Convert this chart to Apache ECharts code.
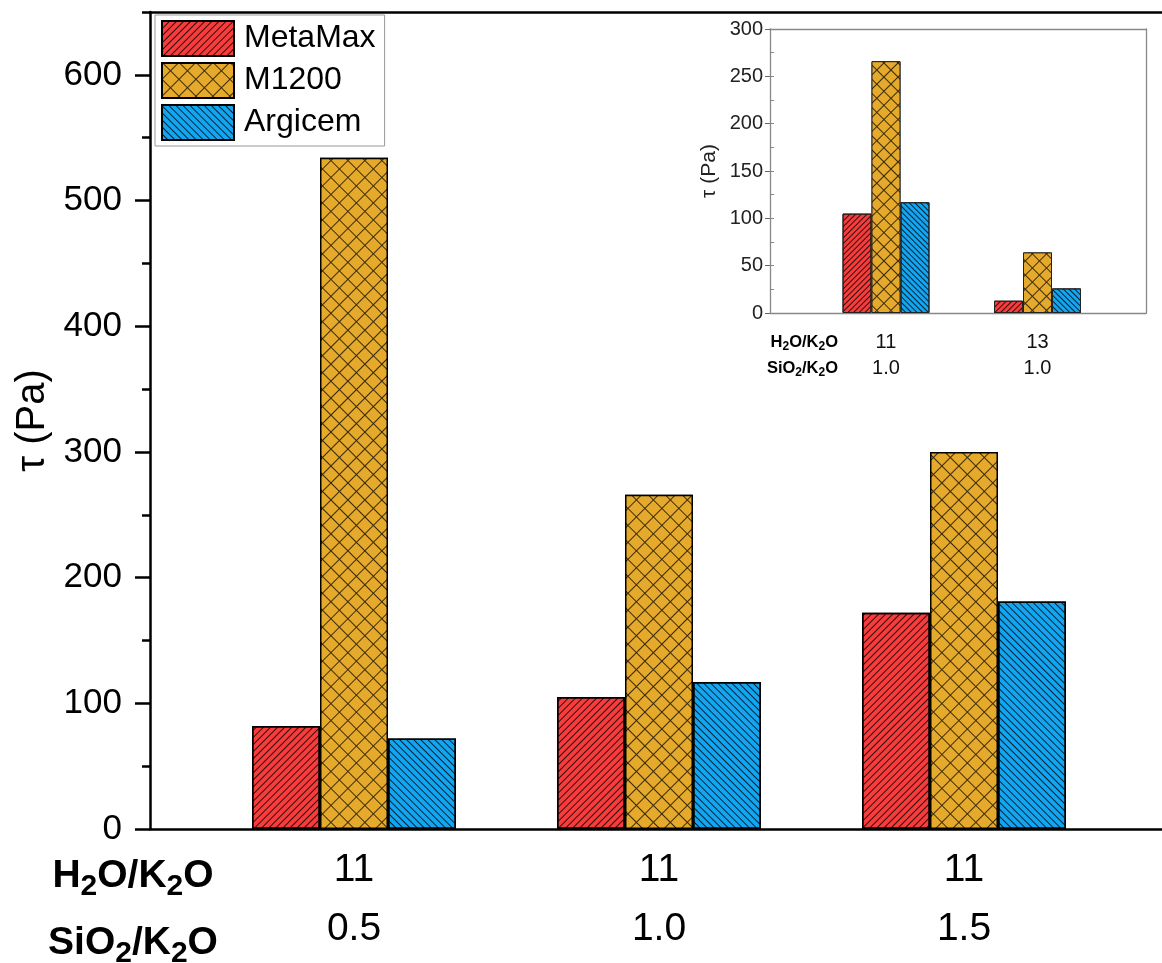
<!DOCTYPE html>
<html><head><meta charset="utf-8">
<script src="https://cdn.jsdelivr.net/npm/echarts@6/dist/echarts.min.js"></script>
<style>html,body{margin:0;padding:0;background:#fff}#c{width:1162px;height:963px}</style>
</head><body><div id="c"></div>
<script>
// ---- data ----
const seriesNames = ['MetaMax', 'M1200', 'Argicem'];
const mainH2O = ['11', '11', '11'];
const mainSiO2 = ['0.5', '1.0', '1.5'];
const mainMetaMax = [82, 105, 172];
const mainM1200 = [534, 266, 300];
const mainArgicem = [72, 117, 181];
const insetH2O = ['11', '13'];
const insetSiO2 = ['1.0', '1.0'];
const insetMetaMax = [105, 13];
const insetM1200 = [266, 64];
const insetArgicem = [117, 26];
const rowLabelH2O = '{b|H}{s|2}{b|O/K}{s|2}{b|O}';
const rowLabelSiO2 = '{b|SiO}{s|2}{b|/K}{s|2}{b|O}';
const yTitle = 'τ (Pa)';

// ---- styling ----
const FF = 'Arial, "Liberation Sans", sans-serif';
const colors = ['#F83C3C', '#E5A92C', '#12A6F2'];
function decals(scale, gap) {
  return [
    {symbol: 'rect', symbolSize: 1, color: 'rgba(0,0,0,0.8)', dashArrayX: [1, 0], dashArrayY: [1, gap], rotation: -Math.PI / 4},
    {symbol: 'rect', symbolSize: 1, color: colors[1], dashArrayX: [scale, 1], dashArrayY: [scale, 1], rotation: Math.PI / 4},
    {symbol: 'rect', symbolSize: 1, color: 'rgba(0,0,0,0.8)', dashArrayX: [1, 0], dashArrayY: [1, gap], rotation: Math.PI / 4}
  ];
}
const fills = [colors[0], '#3a2a08', colors[2]];
const mainDecals = decals(11, 4);
const insetDecals = decals(9, 3);

const mainCats = mainH2O.map((h, i) => h + '\n' + mainSiO2[i]);
const insetCats = insetH2O.map((h, i) => h + '\n' + insetSiO2[i]);
const mainVals = [mainMetaMax, mainM1200, mainArgicem];
const insetVals = [insetMetaMax, insetM1200, insetArgicem];

const noLine = {show: false};
function frameX(grid, pos, color, width) {
  return {gridIndex: grid, type: 'value', min: 0, max: 1, position: pos,
    axisLine: {onZero: false, lineStyle: {color: color, width: width}},
    axisTick: noLine, axisLabel: noLine, splitLine: noLine};
}

const series = [];
seriesNames.forEach((n, i) => {
  series.push({name: n, type: 'bar', xAxisIndex: 2, yAxisIndex: 2, barWidth: 68, barGap: '0%',
    data: mainVals[i],
    itemStyle: {color: fills[i], borderColor: '#000', borderWidth: 1.5, decal: mainDecals[i]}});
});
seriesNames.forEach((n, i) => {
  series.push({name: n, type: 'bar', xAxisIndex: 5, yAxisIndex: 6, barWidth: 29, barGap: '0%',
    data: insetVals[i],
    itemStyle: {color: fills[i], borderColor: '#222', borderWidth: 1, decal: insetDecals[i]}});
});

const richBig = {b: {fontSize: 39, fontWeight: 'bold', fontFamily: FF, color: '#000', lineHeight: 44, verticalAlign: 'middle'},
                 s: {fontSize: 30, fontWeight: 'bold', fontFamily: FF, color: '#000', verticalAlign: 'top', padding: [22, 0, 0, 0]}};
const richSmall = {b: {fontSize: 16.5, fontWeight: 'bold', fontFamily: FF, color: '#111', lineHeight: 20, verticalAlign: 'middle'},
                   s: {fontSize: 12, fontWeight: 'bold', fontFamily: FF, color: '#111', verticalAlign: 'top', padding: [9, 0, 0, 0]}};

const option = {
  animation: false,
  backgroundColor: '#fff',
  textStyle: {fontFamily: FF},
  legend: {
    data: seriesNames, orient: 'vertical', left: 155, top: 15,
    itemWidth: 72, itemHeight: 35, itemGap: 5, padding: [5, 9, 5, 6],
    borderColor: '#999', borderWidth: 1, backgroundColor: '#fff',
    icon: 'rect',
    textStyle: {fontSize: 32, color: '#000', fontFamily: FF, padding: [0, 0, 0, 5]}
  },
  grid: [
    {left: 150, right: -20, top: 12, bottom: 134},
    {left: 201.5, right: 45.5, top: 12, bottom: 134},
    {left: 770, right: 16, top: 29, bottom: 650},
    {left: 810.25, right: 48.75, top: 29, bottom: 650}
  ],
  xAxis: [
    frameX(0, 'bottom', '#000', 2.5),
    frameX(0, 'top', '#000', 2.5),
    {gridIndex: 1, type: 'category', data: mainCats, axisLine: noLine, axisTick: noLine,
     axisLabel: {fontSize: 39, lineHeight: 59, margin: 12, color: '#000', fontFamily: FF}},
    frameX(2, 'bottom', '#888', 1.3),
    frameX(2, 'top', '#888', 1.3),
    {gridIndex: 3, type: 'category', data: insetCats, axisLine: noLine, axisTick: noLine,
     axisLabel: {fontSize: 20, lineHeight: 26, margin: 16, color: '#111', fontFamily: FF}}
  ],
  yAxis: [
    {gridIndex: 0, type: 'value', min: 0, max: 650, interval: 100, position: 'left',
     axisLine: {show: true, onZero: false, lineStyle: {color: '#000', width: 2.5}},
     axisTick: {show: true, length: 15, lineStyle: {color: '#000', width: 2.5}},
     axisLabel: {fontSize: 35, margin: 28, color: '#000', fontFamily: FF, showMaxLabel: false},
     splitLine: noLine,
     name: yTitle, nameLocation: 'middle', nameGap: 96,
     nameTextStyle: {fontSize: 40, color: '#000', fontFamily: FF}},
    {gridIndex: 0, type: 'value', min: 0, max: 650, interval: 50, position: 'left',
     axisLine: {show: false, onZero: false},
     axisTick: {show: true, length: 8, lineStyle: {color: '#000', width: 2.5}},
     axisLabel: noLine, splitLine: noLine},
    {gridIndex: 1, type: 'value', min: 0, max: 650, show: false, splitLine: noLine},
    {gridIndex: 2, type: 'value', min: 0, max: 300, interval: 50, position: 'left',
     axisLine: {show: true, onZero: false, lineStyle: {color: '#888', width: 1.3}},
     axisTick: {show: true, length: 5, lineStyle: {color: '#666', width: 1}},
     axisLabel: {fontSize: 20, margin: 7, color: '#222', fontFamily: FF},
     splitLine: noLine,
     name: yTitle, nameLocation: 'middle', nameGap: 50,
     nameTextStyle: {fontSize: 21, color: '#222', fontFamily: FF}},
    {gridIndex: 2, type: 'value', min: 0, max: 300, interval: 25, position: 'left',
     axisLine: {show: false, onZero: false},
     axisTick: {show: true, inside: true, length: 4, lineStyle: {color: '#888', width: 1}},
     axisLabel: noLine, splitLine: noLine},
    {gridIndex: 2, type: 'value', min: 0, max: 300, position: 'right',
     axisLine: {show: true, onZero: false, lineStyle: {color: '#888', width: 1.3}},
     axisTick: noLine, axisLabel: noLine, splitLine: noLine},
    {gridIndex: 3, type: 'value', min: 0, max: 300, show: false, splitLine: noLine}
  ],
  graphic: [
    {type: 'text', x: 133, y: 876, style: {text: rowLabelH2O, rich: richBig, align: 'center', verticalAlign: 'middle'}},
    {type: 'text', x: 133, y: 943, style: {text: rowLabelSiO2, rich: richBig, align: 'center', verticalAlign: 'middle'}},
    {type: 'text', x: 838, y: 342, style: {text: rowLabelH2O, rich: richSmall, align: 'right', verticalAlign: 'middle'}},
    {type: 'text', x: 838, y: 368, style: {text: rowLabelSiO2, rich: richSmall, align: 'right', verticalAlign: 'middle'}}
  ],
  series: series
};
const chart = echarts.init(document.getElementById('c'), null, {renderer: 'canvas'});
chart.setOption(option);
</script>
</body></html>
